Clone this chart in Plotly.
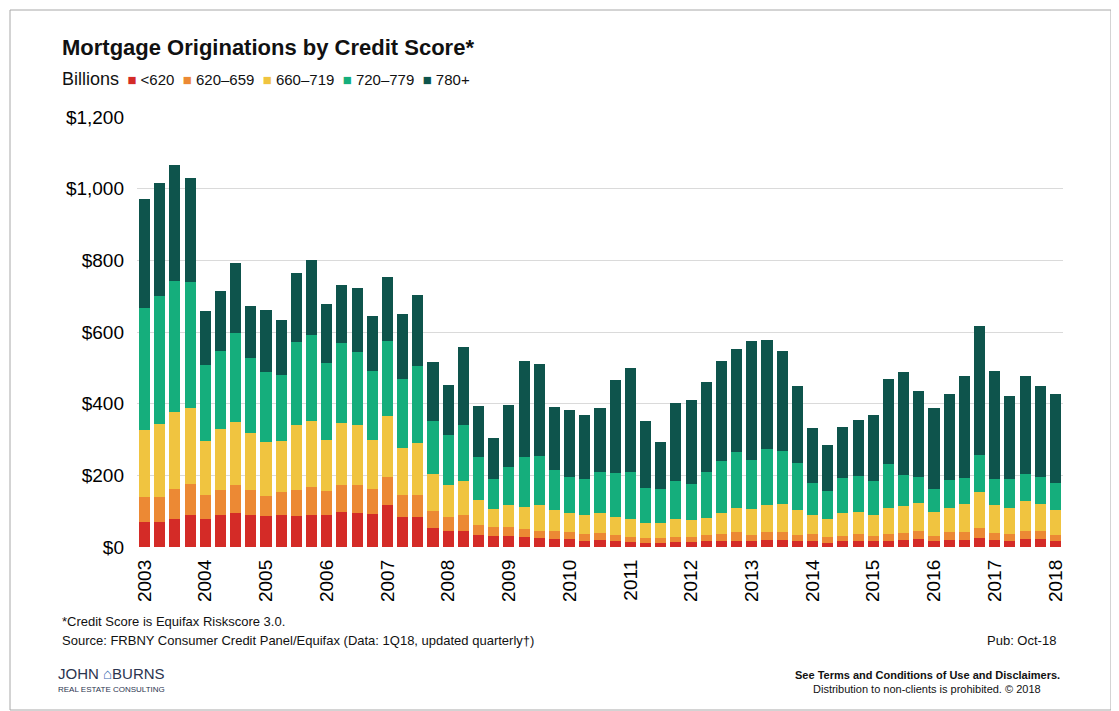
import plotly.graph_objects as go

# Quarterly originations, 1Q03 - 1Q18, billions of dollars
years = [str(y) for y in range(2003, 2019)]

score_bands = ['<620', '620–659', '660–719', '720–779', '780+']
band_colors = ['#D42B27', '#EC8934', '#F0C440', '#15AE7C', '#0E544C']

under_620 = [70, 70, 79, 90, 79, 88, 96, 88, 87, 88, 87, 88, 88, 98, 96, 93,
             116, 83, 83, 54, 46, 46, 34, 30, 32, 27, 25, 23, 23, 18, 19, 17,
             14, 11, 11, 14, 14, 17, 17, 17, 17, 19, 19, 17, 17, 11, 17, 17,
             17, 17, 19, 23, 17, 19, 19, 25, 19, 17, 21, 23, 17]
s620_659 = [70, 70, 82, 87, 65, 70, 76, 71, 54, 65, 71, 79, 67, 76, 78, 70,
            78, 63, 61, 46, 39, 42, 28, 25, 23, 22, 21, 21, 19, 18, 20, 17,
            14, 14, 14, 13, 13, 17, 19, 25, 17, 23, 23, 17, 19, 16, 15, 19,
            13, 20, 20, 23, 15, 23, 23, 28, 20, 19, 23, 21, 17]
s660_719 = [187, 204, 216, 212, 152, 170, 177, 158, 152, 143, 183, 184, 145, 173, 166, 137,
            171, 131, 147, 103, 88, 97, 69, 51, 61, 64, 70, 58, 54, 52, 55, 51,
            49, 43, 43, 52, 49, 48, 59, 67, 71, 74, 78, 70, 52, 50, 62, 63,
            58, 72, 75, 78, 67, 67, 77, 100, 77, 73, 83, 75, 68]
s720_779 = [340, 356, 365, 351, 212, 219, 247, 210, 195, 183, 231, 240, 213, 222, 204, 191,
            210, 193, 214, 149, 139, 155, 121, 84, 108, 139, 139, 112, 100, 102, 116, 122,
            133, 97, 94, 106, 99, 128, 145, 157, 137, 157, 148, 131, 92, 79, 99, 100,
            97, 123, 88, 70, 63, 77, 74, 105, 73, 81, 77, 77, 78]
s780_plus = [305, 315, 325, 291, 152, 168, 196, 146, 174, 155, 194, 210, 166, 163, 180, 155,
             178, 181, 197, 165, 139, 218, 142, 113, 172, 266, 257, 178, 185, 178, 178, 258,
             289, 187, 130, 218, 235, 251, 280, 287, 333, 306, 280, 214, 153, 129, 143, 156,
             184, 236, 286, 242, 226, 242, 284, 360, 302, 231, 273, 253, 248]

y_ticks = list(range(0, 1201, 200))
y_labels = ['$0', '$200', '$400', '$600', '$800', '$1,000', '$1,200']

series = [under_620, s620_659, s660_719, s720_779, s780_plus]
quarters = list(range(len(under_620)))

FONT = 'Liberation Sans, Arial, sans-serif'
OFF = 8  # page body margin, figure sits 8px in from the window corner
W, H = 1119 - OFF, 711 - OFF
ML, MR, MT, MB = 137 - OFF, 56, 117 - OFF, 164


def px(x):
    # page pixel -> paper x
    return (x - OFF - ML) / (W - ML - MR)


def py(y):
    # page pixel -> paper y
    return (H - MB - (y - OFF)) / (H - MT - MB)


fig = go.Figure()
for name, vals, color in zip(score_bands, series, band_colors):
    fig.add_trace(go.Bar(x=quarters, y=vals, name=name, marker_color=color,
                         marker_line_width=0, showlegend=False))

fig.update_layout(
    barmode='stack',
    bargap=0.27,
    width=W, height=H,
    margin=dict(l=ML, r=MR, t=MT, b=MB),
    paper_bgcolor='white',
    plot_bgcolor='white',
    font=dict(family=FONT, color='#111111'),
)

fig.update_xaxes(
    range=[-0.5, len(quarters) - 0.5],
    tickvals=quarters[::4],
    ticktext=years,
    tickangle=-90,
    tickfont=dict(size=19, color='#000000'),
    ticklabelstandoff=8,
    showgrid=False, zeroline=False, showline=False,
)
fig.update_yaxes(
    range=[0, 1200],
    tickvals=y_ticks,
    ticktext=y_labels,
    tickfont=dict(size=19, color='#000000'),
    ticklabelstandoff=12,
    showgrid=True, gridcolor='#DADADA', gridwidth=1,
    zeroline=False, showline=False,
)

# legend row built as text
legend_txt = "<span style='font-size:18px'>Billions</span>&nbsp;&nbsp;" + '&nbsp;&nbsp;'.join(
    f"<span style='color:{c};font-size:15px'>■</span>&nbsp;{n}"
    for n, c in zip(score_bands, band_colors))

notes = [
    dict(x=px(60), y=py(48), text='<b>Mortgage Originations by Credit Score*</b>',
         size=22, xanchor='left'),
    dict(x=px(60), y=py(79), text=legend_txt, size=15, xanchor='left'),
    dict(x=px(60), y=py(621), text='*Credit Score is Equifax Riskscore 3.0.',
         size=13, xanchor='left'),
    dict(x=px(60), y=py(640),
         text='Source: FRBNY Consumer Credit Panel/Equifax (Data: 1Q18, updated quarterly†)',
         size=13, xanchor='left'),
    dict(x=px(1058), y=py(640), text='Pub: Oct-18', size=13, xanchor='right'),
    dict(x=px(927), y=py(675), text='<b>See Terms and Conditions of Use and Disclaimers.</b>',
         size=11, xanchor='center'),
    dict(x=px(927), y=py(689), text='Distribution to non-clients is prohibited. © 2018',
         size=11, xanchor='center'),
    dict(x=px(56), y=py(673),
         text="JOHN <span style='color:#3B6DB3'>⌂</span>BURNS",
         size=15, xanchor='left', color='#2B3550'),
    dict(x=px(56), y=py(689), text='REAL ESTATE CONSULTING', size=8,
         xanchor='left', color='#2B3550'),
]
for n in notes:
    fig.add_annotation(
        x=n['x'], y=n['y'], xref='paper', yref='paper',
        text=n['text'], showarrow=False,
        xanchor=n['xanchor'], yanchor='middle',
        font=dict(family=FONT, size=n['size'], color=n.get('color', '#111111')),
    )

# thin frame around the whole graphic
fig.add_shape(type='rect', xref='paper', yref='paper',
              x0=px(10), x1=px(1111), y0=py(710), y1=py(10),
              line=dict(color='#A8A8A8', width=1), fillcolor='rgba(0,0,0,0)')

fig.write_html("out.html")
